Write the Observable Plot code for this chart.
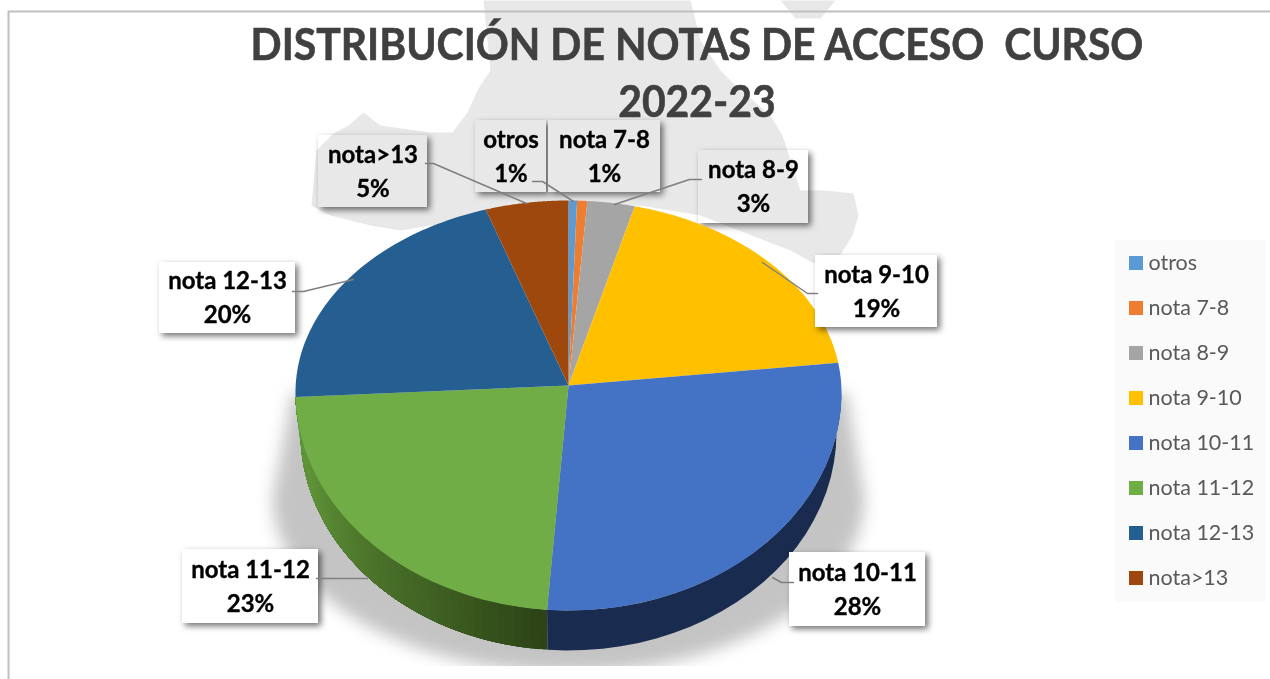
<!DOCTYPE html>
<html lang="es">
<head>
<meta charset="utf-8">
<script src="https://cdn.jsdelivr.net/npm/d3@7"></script>
<script src="https://cdn.jsdelivr.net/npm/@observablehq/plot@0.6"></script>
<style>
  html, body { margin: 0; padding: 0; background: #fff; }
  #page { position: relative; width: 1270px; height: 679px; overflow: hidden; }
  #title {
    position: absolute; left: 197px; top: 15px; width: 1000px; text-align: center;
    font: 700 44px/57px Lato, sans-serif; color: #404040; white-space: pre; z-index: 2;
    transform: scaleX(0.93); transform-origin: 500px 0; -webkit-text-stroke: 0.6px #404040;
  }
  svg { display: block; }
</style>
</head>
<body>
<div id="page">
  <div id="title">DISTRIBUCIÓN DE NOTAS DE ACCESO  CURSO
2022-23</div>
</div>
<script>
// ---- data ----
const categories = ["otros", "nota 7-8", "nota 8-9", "nota 9-10", "nota 10-11", "nota 11-12", "nota 12-13", "nota>13"];
const shares = [0.5, 0.6, 2.8, 18.6, 28.7, 23.4, 20.4, 4.9];
const percentLabels = ["1%", "1%", "3%", "19%", "28%", "23%", "20%", "5%"];
const colors = ["#5b9bd5", "#ed7d31", "#a5a5a5", "#ffc000", "#4472c4", "#70ad47", "#255e91", "#9e480e"];

// ---- layout (page pixels, used as the x/y scale domain) ----
const W = 1270, H = 679;
const pie = {cx: 568, cy: 385, wideY: 392, rx: 273, ryTop: 192, ryBottom: 218, depth: 40, baseInset: 5};
const labelBoxes = [
  [475, 120, 546, 192], [548, 120, 660, 192], [698, 150, 808, 223], [815, 255, 937, 327],
  [789, 552, 925, 626], [182, 549, 318, 623], [159, 262, 295, 333], [318, 135, 427, 207]
];
const backLabels = ["otros", "nota 7-8", "nota 8-9", "nota>13"];
const leaderPaths = [
  [[532, 181], [542, 181], [573, 201]],
  [],
  [[701, 179], [689, 179], [614, 204]],
  [[817, 293], [807, 293], [762, 262]],
  [[793, 582], [781, 582], [772, 577]],
  [[316, 578], [367, 578]],
  [[292, 291], [303, 291], [353, 279]],
  [[425, 163], [433, 163], [526, 203]]
];
const watermark = [
  [[483,0],[690,0],[700,40],[720,70],[735,85],[770,115],[782,135],[800,190],[825,190],[853,193],[858,215],[852,235],[835,262],[812,262],[790,250],[700,215],[640,205],[570,205],[430,225],[400,230],[370,225],[330,215],[311,205],[316,150],[333,133],[348,125],[363,112],[380,125],[430,132],[452,132],[467,112],[478,88],[490,70]],
  [[780,0],[835,0],[820,18],[795,18]]
];

// ---- geometry from the values ----
const rim = t => {
  const c = Math.cos(t);
  return [pie.cx + pie.rx * Math.sin(t), pie.wideY - (c > 0 ? pie.ryTop : pie.ryBottom) * c];
};
const baseRim = t => {
  const [, y] = rim(t);
  return [pie.cx + (pie.rx - pie.baseInset) * Math.sin(t), y + pie.depth];
};
const arcs = d3.pie().sort(null).value(d => d)(shares);
const arcSteps = (a, b, n) => d3.range(n + 1).map(i => a + (b - a) * i / n);

const topFaces = [];
arcs.forEach((a, i) => {
  const pts = [[pie.cx, pie.cy], ...arcSteps(a.startAngle, a.endAngle, 60).map(rim), [pie.cx, pie.cy]];
  pts.forEach(([x, y]) => topFaces.push({x, y, id: i, color: colors[i]}));
});

const walls = [];
let wallId = 0;
const addWall = (a, b, color) => {
  const steps = arcSteps(a, b, 24);
  [...steps.map(rim), ...steps.slice().reverse().map(baseRim)].forEach(([x, y]) =>
    walls.push({x, y, id: wallId, color}));
  wallId++;
};
// 10-11 wall: one flat colour
const blue = arcs[categories.indexOf("nota 10-11")];
addWall(Math.max(blue.startAngle, Math.PI / 2), blue.endAngle, "#192c50");
// 11-12 wall: dark at the front, lighter towards the side (bands overlap to avoid seams)
const green = arcs[categories.indexOf("nota 11-12")];
const bands = arcSteps(green.startAngle, green.endAngle, 48);
const greenEnd = green.endAngle;
d3.pairs(bands).forEach(([a], idx) => {
  const f = Math.min(1, idx / 48 * 1.25);
  addWall(a, greenEnd, d3.interpolateRgb("#2d4416", "#5f9338")(f));
});

const shadowPts = [[292, 392],
  ...arcSteps(3 * Math.PI / 2, Math.PI / 2, 60).map(t => [568 + 296 * Math.sin(t), 497 - 175 * Math.cos(t)]),
  [846, 392]].map(([x, y]) => ({x, y}));

const watermarkPts = watermark.flatMap((poly, id) => poly.map(([x, y]) => ({x, y, id})));
const leaders = leaderPaths.flatMap((p, id) => p.map(([x, y]) => ({x, y, id})));
const boxes = labelBoxes.map(([x1, y1, x2, y2], i) => ({
  x1, y1, x2, y2, name: categories[i], label: categories[i] + "\n" + percentLabels[i]
}));
const boxesBack = boxes.filter(d => backLabels.includes(d.name));
const boxesFront = boxes.filter(d => !backLabels.includes(d.name));
const legendRows = categories.map((name, i) => ({name, color: colors[i], y: 263 + 45 * i}));
const legendBox = [{x1: 1115, x2: 1266, y1: 240, y2: 602}];
const boxShadow = "drop-shadow(3px 3px 3px rgba(0,0,0,0.55))";
const boxOpts = {x1: "x1", x2: "x2", y1: "y1", y2: "y2", fill: "#fff", imageFilter: boxShadow};

const chart = Plot.plot({
  width: W, height: H, margin: 0,
  x: {domain: [0, W], range: [0, W], axis: null},
  y: {domain: [0, H], range: [0, H], axis: null},
  color: {type: "identity"},
  style: {background: "#fff", fontFamily: "Lato, sans-serif"},
  marks: [
    // callouts at the back, then the faint background map showing through them
    Plot.rect(boxesBack, boxOpts),
    Plot.line(watermarkPts, {x: "x", y: "y", z: "id", fill: "#e8e8e8", stroke: "none", mixBlendMode: "multiply"}),
    // frame
    Plot.ruleY([11], {x1: 8, x2: W, stroke: "#bfbfbf", strokeWidth: 2}),
    Plot.ruleX([8], {y1: 11, y2: H, stroke: "#bfbfbf", strokeWidth: 2}),
    // pie shadow
    Plot.line(shadowPts, {x: "x", y: "y", fill: "#c4c4c4", stroke: "none", imageFilter: "blur(8px)"}),
    Plot.rect([{x1: 260, x2: 880, y1: 666, y2: H}], {x1: "x1", x2: "x2", y1: "y1", y2: "y2", fill: "#fff"}),
    // wall then face
    Plot.line(walls, {x: "x", y: "y", z: "id", fill: "color", stroke: "none"}),
    Plot.line(topFaces, {x: "x", y: "y", z: "id", fill: "color", stroke: "none"}),
    // callouts in front
    Plot.rect(boxesFront, boxOpts),
    Plot.line(leaders, {x: "x", y: "y", z: "id", stroke: "#7f7f7f", strokeWidth: 1.5}),
    Plot.text(boxes, {x: d => (d.x1 + d.x2) / 2, y: d => (d.y1 + d.y2) / 2 - 2.5, text: "label",
      fontSize: 24, fontWeight: 700, fill: "#000", stroke: "#000", strokeWidth: 0.35, lineHeight: 1.42, lineAnchor: "middle"}),
    // legend
    Plot.rect(legendBox, {x1: "x1", x2: "x2", y1: "y1", y2: "y2", fill: "#fafafa"}),
    Plot.rect(legendRows, {x1: () => 1129, x2: () => 1143, y1: d => d.y - 7, y2: d => d.y + 7, fill: "color"}),
    Plot.text(legendRows, {x: () => 1148, y: "y", text: "name", textAnchor: "start", fontSize: 21.5, fill: "#595959", lineAnchor: "middle"})
  ]
});
document.getElementById("page").appendChild(chart);
</script>
</body>
</html>
